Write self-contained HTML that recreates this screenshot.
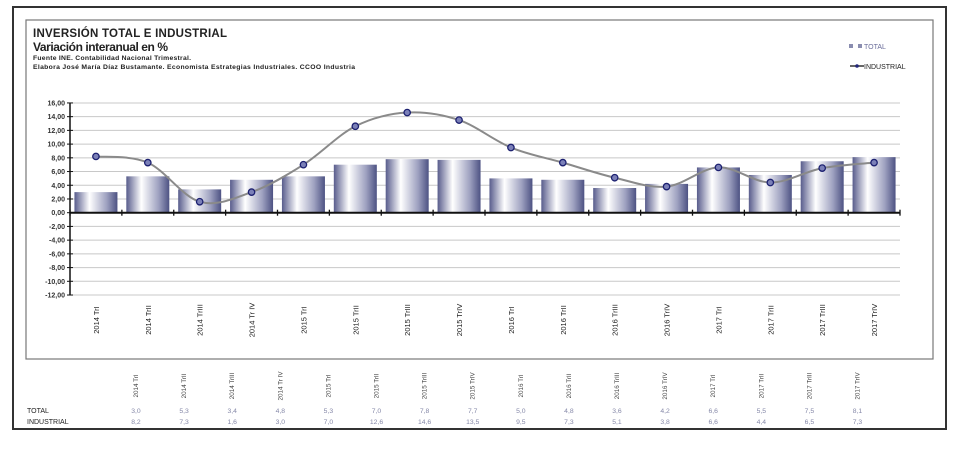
<!DOCTYPE html>
<html><head><meta charset="utf-8"><style>
body{margin:0;width:960px;height:452px;background:#fff;overflow:hidden;font-family:"Liberation Sans",sans-serif}
svg{position:absolute;left:0;top:0}
</style></head><body>
<svg id="s" width="960" height="452" xmlns="http://www.w3.org/2000/svg">
<defs>
<linearGradient id="g" x1="0" x2="1" y1="0" y2="0">
<stop offset="0" stop-color="#585c8c"/><stop offset="0.35" stop-color="#ffffff"/><stop offset="0.75" stop-color="#9ea1c0"/><stop offset="1" stop-color="#4d5283"/>
</linearGradient>
</defs>
<rect x="13" y="7" width="933" height="422" fill="none" stroke="#333" stroke-width="2"/>
<rect x="26" y="20" width="907" height="339" fill="none" stroke="#777" stroke-width="1.2"/>
<text x="33" y="37" font-size="11.5" font-weight="bold" fill="#222" textLength="194">INVERSIÓN TOTAL E INDUSTRIAL</text>
<text x="33" y="51" font-size="12" font-weight="bold" fill="#222" textLength="135">Variación interanual en %</text>
<text x="33" y="60" font-size="6.8" font-weight="bold" fill="#222" textLength="158">Fuente INE. Contabilidad Nacional Trimestral.</text>
<text x="33" y="69" font-size="6.8" font-weight="bold" fill="#222" textLength="322">Elabora José María Díaz Bustamante. Economista Estrategias Industriales. CCOO Industria</text>
<rect x="849" y="44" width="4" height="4" fill="#8a8db0"/><rect x="858" y="44" width="4" height="4" fill="#8a8db0"/>
<text x="864" y="49" font-size="7" fill="#6a6d9a">TOTAL</text>
<line x1="850" y1="66" x2="864" y2="66" stroke="#333" stroke-width="1.5"/><circle cx="857" cy="66" r="1.8" fill="#22267a"/>
<text x="864" y="69" font-size="7" fill="#222">INDUSTRIAL</text>
<g id="plot"></g>
</svg>
<script>
var T=[3.0,5.3,3.4,4.8,5.3,7.0,7.8,7.7,5.0,4.8,3.6,4.2,6.6,5.5,7.5,8.1];
var I=[8.2,7.3,1.6,3.0,7.0,12.6,14.6,13.5,9.5,7.3,5.1,3.8,6.6,4.4,6.5,7.3];
var L=["2014 TrI","2014 TrII","2014 TrIII","2014 Tr IV","2015 TrI","2015 TrII","2015 TrIII","2015 TrIV","2016 TrI","2016 TrII","2016 TrIII","2016 TrIV","2017 TrI","2017 TrII","2017 TrIII","2017 TrIV"];
var x0=70,x1=900,w=(x1-x0)/16,y0=212.7,k=6.86,h='';
function Y(v){return y0-v*k}
for(var v=-12;v<=16;v+=2){var y=Y(v);if(v!=0)h+='<line x1="'+x0+'" x2="'+x1+'" y1="'+y+'" y2="'+y+'" stroke="#c8c8c8" stroke-width="1"/>';
h+='<line x1="'+(x0-3)+'" x2="'+(x0+3)+'" y1="'+y+'" y2="'+y+'" stroke="#111"/>';
h+='<text x="'+(x0-5)+'" y="'+(y+2.5)+'" font-size="7" font-weight="bold" text-anchor="end" fill="#333">'+v.toFixed(2).replace('.',',')+'</text>';}
for(var i=0;i<16;i++){var c=x0+w*(i+.5);h+='<rect x="'+(c-21.5)+'" y="'+Y(T[i])+'" width="43" height="'+(T[i]*k)+'" fill="url(#g)"/>';}
h+='<line x1="'+x0+'" x2="'+x0+'" y1="'+Y(16)+'" y2="'+Y(-12)+'" stroke="#111" stroke-width="1.5"/>';
h+='<line x1="'+x0+'" x2="'+x1+'" y1="'+y0+'" y2="'+y0+'" stroke="#111" stroke-width="2"/>';
for(var i=0;i<=16;i++){var x=x0+w*i;h+='<line x1="'+x+'" x2="'+x+'" y1="'+(y0-3)+'" y2="'+(y0+3)+'" stroke="#111" stroke-width="1.3"/>';}
var P=I.map(function(v,i){return [x0+w*(i+.5),Y(v)]});
var d='M'+P[0][0]+','+P[0][1];
for(var i=0;i<15;i++){var p0=P[Math.max(i-1,0)],p1=P[i],p2=P[i+1],p3=P[Math.min(i+2,15)];
d+=' C'+(p1[0]+(p2[0]-p0[0])/6)+','+(p1[1]+(p2[1]-p0[1])/6)+' '+(p2[0]-(p3[0]-p1[0])/6)+','+(p2[1]-(p3[1]-p1[1])/6)+' '+p2[0]+','+p2[1];}
h+='<path d="'+d+'" fill="none" stroke="#8a8a8a" stroke-width="2"/>';
P.forEach(function(p){h+='<circle cx="'+p[0]+'" cy="'+p[1]+'" r="3.2" fill="#7b80b8" stroke="#1c2070" stroke-width="1.3"/>';});
for(var i=0;i<16;i++){var c=x0+w*(i+.5);h+='<text transform="translate('+(c+3)+',320) rotate(-90)" font-size="7.5" text-anchor="middle" fill="#222">'+L[i]+'</text>';}
for(var i=0;i<16;i++){var c=136+48.1*i;
h+='<text transform="translate('+(c+2)+',386) rotate(-90)" font-size="6.3" text-anchor="middle" fill="#444">'+L[i]+'</text>';
h+='<text x="'+c+'" y="413" font-size="6.8" text-anchor="middle" fill="#8588a8">'+T[i].toFixed(1).replace('.',',')+'</text>';
h+='<text x="'+c+'" y="424" font-size="6.8" text-anchor="middle" fill="#8588a8">'+I[i].toFixed(1).replace('.',',')+'</text>';}
h+='<text x="27" y="413" font-size="7" fill="#222">TOTAL</text><text x="27" y="424" font-size="7" fill="#222">INDUSTRIAL</text>';
document.getElementById('plot').innerHTML=h;
</script>
</body></html>
